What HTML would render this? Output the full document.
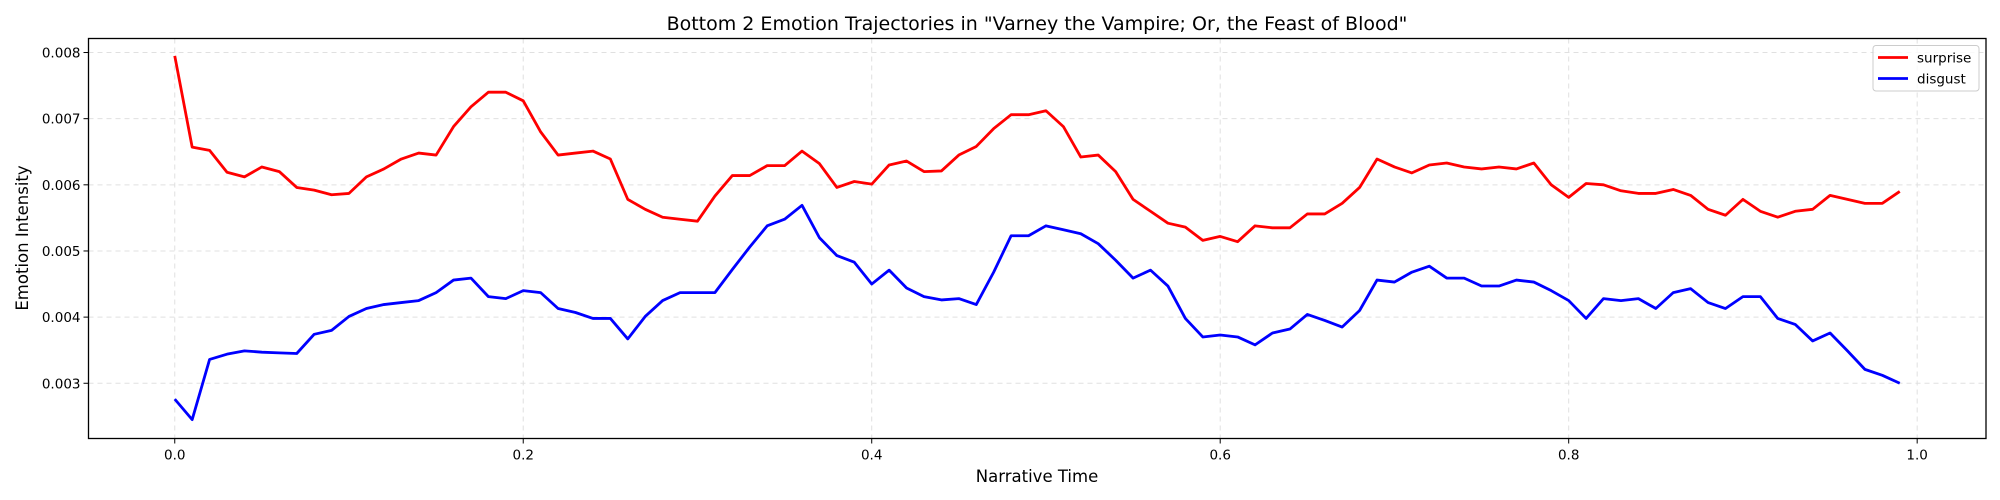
<!DOCTYPE html>
<html><head><meta charset="utf-8">
<style>
html,body{margin:0;padding:0;background:#fff;}
svg{display:block;font-family:"DejaVu Sans","Liberation Sans",sans-serif;}
</style></head>
<body>
<svg id="chart" width="2000" height="500" xmlns="http://www.w3.org/2000/svg">
<rect width="2000" height="500" fill="#fff"/>
<text x="1037" y="30" text-anchor="middle" font-size="19">Bottom 2 Emotion Trajectories in "Varney the Vampire; Or, the Feast of Blood"</text>
<g id="grid"></g>
<g id="ticks"></g>
<g id="series"></g>
<rect x="88.5" y="38.5" width="1897.5" height="400" fill="none" stroke="#000" stroke-width="1.3"/>
<text x="1037" y="482" text-anchor="middle" font-size="16.5">Narrative Time</text>
<text transform="translate(28,238) rotate(-90)" text-anchor="middle" font-size="16.5">Emotion Intensity</text>
<g>
<rect x="1873" y="45.5" width="106" height="45.5" rx="3" fill="#fff" fill-opacity="0.8" stroke="#ccc"/>
<line x1="1878" y1="57.5" x2="1908" y2="57.5" stroke="#ff0000" stroke-width="2.8"/>
<text x="1917" y="62.5" font-size="13.5">surprise</text>
<line x1="1878" y1="78.5" x2="1908" y2="78.5" stroke="#0000ff" stroke-width="2.8"/>
<text x="1917" y="83.5" font-size="13.5">disgust</text>
</g>
</svg>
<script>
const surprise=[0.00795,0.00657,0.00652,0.00619,0.00612,0.00627,0.00620,0.00596,0.00592,0.00585,0.00587,0.00612,0.00624,0.00639,0.00648,0.00645,0.00688,0.00718,0.00740,0.00740,0.00727,0.00680,0.00645,0.00648,0.00651,0.00639,0.00578,0.00563,0.00551,0.00548,0.00545,0.00583,0.00614,0.00614,0.00629,0.00629,0.00651,0.00632,0.00596,0.00605,0.00601,0.00630,0.00636,0.00620,0.00621,0.00645,0.00658,0.00685,0.00706,0.00706,0.00712,0.00688,0.00642,0.00645,0.00620,0.00578,0.00560,0.00542,0.00536,0.00516,0.00522,0.00514,0.00538,0.00535,0.00535,0.00556,0.00556,0.00572,0.00596,0.00639,0.00627,0.00618,0.00630,0.00633,0.00627,0.00624,0.00627,0.00624,0.00633,0.00600,0.00581,0.00602,0.00600,0.00591,0.00587,0.00587,0.00593,0.00584,0.00563,0.00554,0.00578,0.00560,0.00551,0.00560,0.00563,0.00584,0.00578,0.00572,0.00572,0.00590];
const disgust=[0.00276,0.00245,0.00336,0.00344,0.00349,0.00347,0.00346,0.00345,0.00374,0.00380,0.00401,0.00413,0.00419,0.00422,0.00425,0.00437,0.00456,0.00459,0.00431,0.00428,0.00440,0.00437,0.00413,0.00407,0.00398,0.00398,0.00367,0.00401,0.00425,0.00437,0.00437,0.00437,0.00472,0.00506,0.00538,0.00548,0.00569,0.00520,0.00493,0.00483,0.00450,0.00471,0.00444,0.00431,0.00426,0.00428,0.00419,0.00468,0.00523,0.00523,0.00538,0.00532,0.00526,0.00511,0.00486,0.00459,0.00471,0.00447,0.00398,0.00370,0.00373,0.00370,0.00358,0.00376,0.00382,0.00404,0.00395,0.00385,0.00410,0.00456,0.00453,0.00468,0.00477,0.00459,0.00459,0.00447,0.00447,0.00456,0.00453,0.00440,0.00425,0.00398,0.00428,0.00425,0.00428,0.00413,0.00437,0.00443,0.00422,0.00413,0.00431,0.00431,0.00398,0.00389,0.00364,0.00376,0.00349,0.00321,0.00312,0.00300];
const xTicks=[0,0.2,0.4,0.6,0.8,1.0];
const xTickLabels=["0.0","0.2","0.4","0.6","0.8","1.0"];
const yTicks=[0.003,0.004,0.005,0.006,0.007,0.008];
const yTickLabels=["0.003","0.004","0.005","0.006","0.007","0.008"];

const NS="http://www.w3.org/2000/svg";
const L=88.5,R=1986,T=38.5,B=438.5;
const xMin=-0.0495,xMax=1.0395,yMin=0.002165,yMax=0.008212;
function xs(v){return L+(v-xMin)/(xMax-xMin)*(R-L);}
function ys(v){return B-(v-yMin)/(yMax-yMin)*(B-T);}
function mk(tag,attrs,parent){const e=document.createElementNS(NS,tag);for(const k in attrs)e.setAttribute(k,attrs[k]);parent.appendChild(e);return e;}
const grid=document.getElementById('grid'),ticks=document.getElementById('ticks'),series=document.getElementById('series');
xTicks.forEach((v,i)=>{
  const x=xs(v);
  const g=mk('line',{x1:x,x2:x,y1:T,y2:B,stroke:'#e0e0e0','stroke-dasharray':'5,4','stroke-width':1},grid);
  
  
  const t=mk('line',{x1:x,x2:x,y1:B,y2:B+5,stroke:'#000','stroke-width':1},ticks);
  
  
  const lb=mk('text',{x:x,y:B+21,'text-anchor':'middle','font-size':13.5},ticks);
  lb.textContent=xTickLabels[i];
  
  
});
yTicks.forEach((v,i)=>{
  const y=ys(v);
  const g=mk('line',{x1:L,x2:R,y1:y,y2:y,stroke:'#e0e0e0','stroke-dasharray':'5,4','stroke-width':1},grid);
  
  
  const t=mk('line',{x1:L-5,x2:L,y1:y,y2:y,stroke:'#000','stroke-width':1},ticks);
  
  
  const lb=mk('text',{x:L-8,y:y+5,'text-anchor':'end','font-size':13.5},ticks);
  lb.textContent=yTickLabels[i];
  
  
});
function drawLine(vals,color,name){
  const pts=vals.map((v,i)=>xs(i/100).toFixed(2)+','+ys(v).toFixed(2)).join(' ');
  const p=mk('polyline',{points:pts,fill:'none',stroke:color,'stroke-width':2.8,'stroke-linejoin':'round'},series);
  
  
}
drawLine(surprise,'#ff0000','surprise-line');
drawLine(disgust,'#0000ff','disgust-line');
</script>
</body></html>
